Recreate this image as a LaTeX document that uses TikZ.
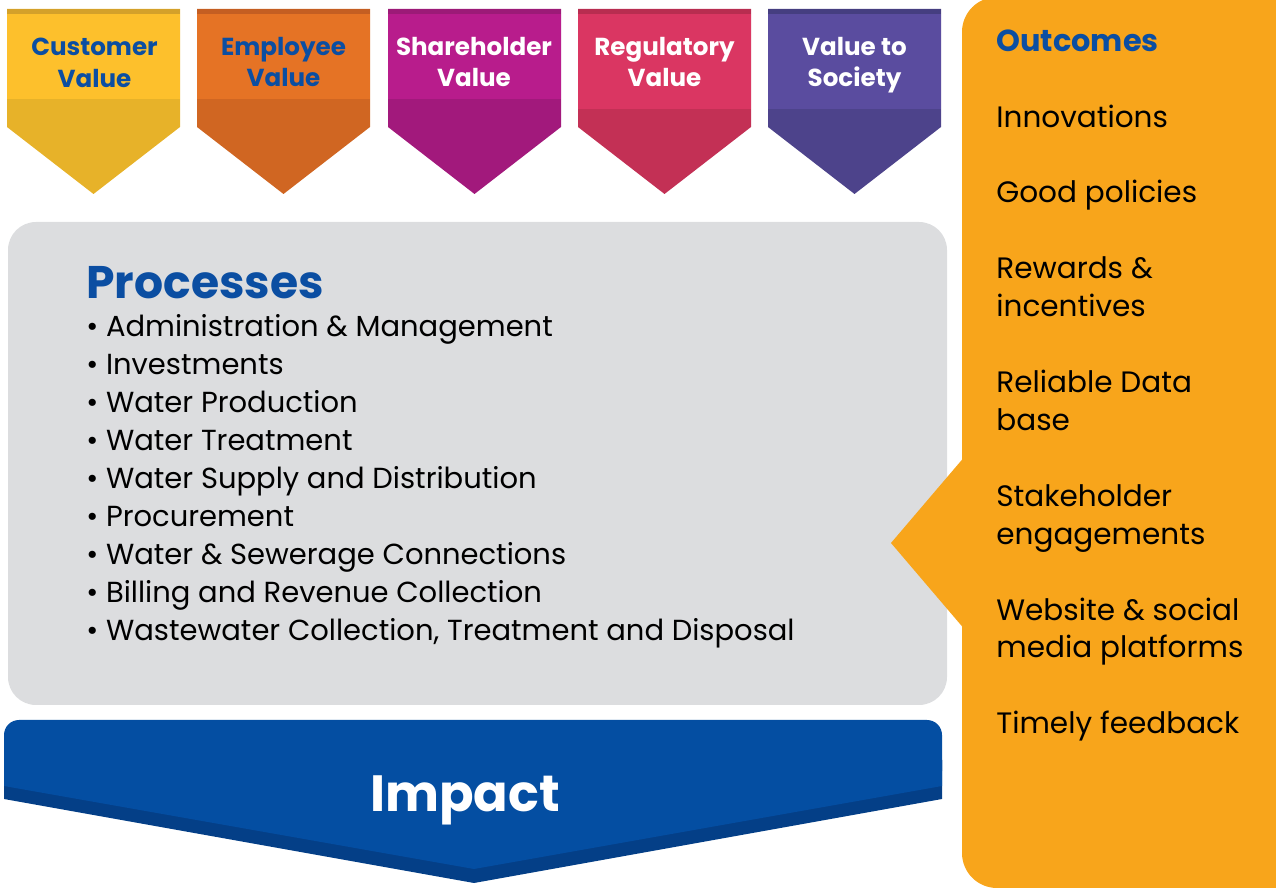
\documentclass[tikz,border=0pt]{standalone}
\usepackage{fontspec}
\setmainfont{Poppins}
\usetikzlibrary{positioning}

\definecolor{brandblue}{HTML}{0B4EA2}
\definecolor{panelgray}{HTML}{DCDDDF}
\definecolor{outcomeorange}{HTML}{F8A51B}
\definecolor{impactlight}{HTML}{044EA2}
\definecolor{impactdark}{HTML}{043F87}
% value tags: light / dark / top strip
\definecolor{custL}{HTML}{FDC02C}\definecolor{custD}{HTML}{E7B229}\definecolor{custS}{HTML}{D4A12A}
\definecolor{emplL}{HTML}{E57325}\definecolor{emplD}{HTML}{D06622}\definecolor{emplS}{HTML}{C45E22}
\definecolor{sharL}{HTML}{B81C8C}\definecolor{sharD}{HTML}{A2197C}\definecolor{sharS}{HTML}{9C1A77}
\definecolor{reguL}{HTML}{DA3662}\definecolor{reguD}{HTML}{C33055}\definecolor{reguS}{HTML}{B82D50}
\definecolor{sociL}{HTML}{5A4C9F}\definecolor{sociD}{HTML}{4D438B}\definecolor{sociS}{HTML}{453E80}

% #1 left x, #2 y where the light part ends, #3 light, #4 dark, #5 strip
\newcommand{\valuetag}[5]{%
  \fill[#4] (#1,9) -- (#1+173,9) -- (#1+173,127) -- (#1+86.5,194) -- (#1,127) -- cycle;
  \fill[#3] (#1,14) rectangle (#1+173,#2);
  \fill[#5] (#1,9) rectangle (#1+173,14);
}

\begin{document}
\begin{tikzpicture}[
    x=0.02cm, y=-0.02cm,
    every node/.style={inner sep=0pt},
    tagtext/.style={font=\fontsize{14}{18}\selectfont\bfseries, align=center},
    heading/.style={font=\bfseries, text=brandblue, anchor=base west},
    item/.style={font=\fontsize{17}{21.5}\selectfont, anchor=base west},
  ]
  \useasboundingbox (0,0) rectangle (1276,888);

  %% --- value tags along the top ------------------------------------------
  \valuetag{7}{99}{custL}{custD}{custS}
  \valuetag{197}{99}{emplL}{emplD}{emplS}
  \valuetag{388}{99}{sharL}{sharD}{sharS}
  \valuetag{578}{109}{reguL}{reguD}{reguS}
  \valuetag{768}{109}{sociL}{sociD}{sociS}

  \node[tagtext, text=brandblue] (customer)    at (94.5,63)  {Customer\\Value};
  \node[tagtext, text=brandblue] (employee)    at (283.5,62) {Employee\\Value};
  \node[tagtext, text=white]     (shareholder) at (474,62)   {Shareholder\\Value};
  \node[tagtext, text=white]     (regulatory)  at (664.5,62) {Regulatory\\Value};
  \node[tagtext, text=white]     (society)     at (854.5,65) {Value to\\Society};

  %% --- processes panel ---------------------------------------------------
  \fill[panelgray, rounded corners=0.56cm] (8,222) rectangle (947,705);
  \node[heading, font=\fontsize{26}{30}\selectfont\bfseries] (processes) at (86,299) {Processes};
  \foreach \y/\t [count=\i] in {
      337/Administration \& Management,
      375/Investments,
      413/Water Production,
      451/Water Treatment,
      489/Water Supply and Distribution,
      527/Procurement,
      565/Water \& Sewerage Connections,
      603/Billing and Revenue Collection,
      641/{Wastewater Collection, Treatment and Disposal}}
    \node[item, font=\fontsize{16.5}{21}\selectfont] (proc\i) at (86,\y) {\textbullet\ \t};

  %% --- outcomes panel (with pointer into the processes) ------------------
  \fill[outcomeorange, rounded corners=0.7cm]
    (1276,-3) -- (962,-3) -- (962,888) -- (1276,888);
  \fill[outcomeorange] (966,455) -- (891,543) -- (966,631) -- cycle;
  \node[heading, font=\fontsize{17.3}{22}\selectfont\bfseries] (outcomes) at (996,52) {Outcomes};
  \foreach \y/\t [count=\i] in {
      128/Innovations,
      203/Good policies,
      279/Rewards \&,
      317/incentives,
      393/Reliable Data,
      431/base,
      507/Stakeholder,
      545/engagements,
      621/Website \& social,
      658/media platforms,
      734/Timely feedback}
    \node[item, font=\fontsize{16.8}{21}\selectfont] (out\i) at (996,\y) {\t};

  %% --- impact arrow ------------------------------------------------------
  \fill[impactdark] (4,760) -- (942,760) -- (942,799) -- (474,883) -- (4,799) -- cycle;
  \fill[impactlight, rounded corners=0.3cm] (4,720) rectangle (942,786);
  \fill[impactlight] (4,760) -- (942,760) -- (942,786) -- (474,869) -- (4,786) -- cycle;
  \node[font=\fontsize{29}{34}\selectfont\bfseries, text=white, anchor=base] (impact) at (465,811) {Impact};

\end{tikzpicture}
\end{document}
